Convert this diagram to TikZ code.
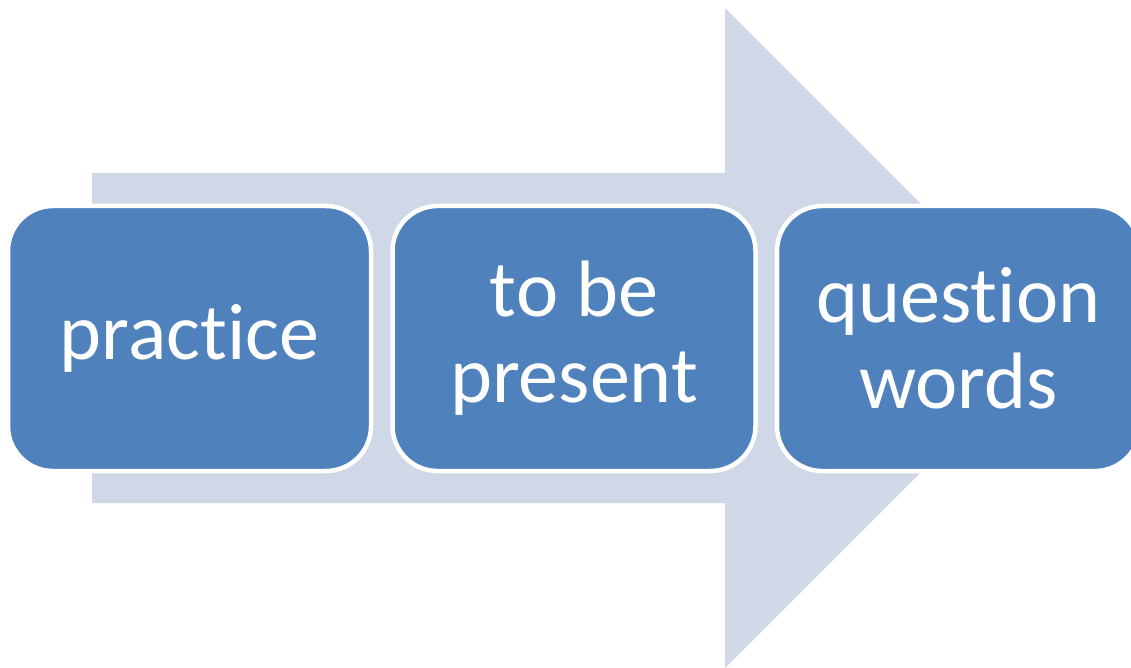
\documentclass[tikz,border=0pt]{standalone}
\usepackage{fontspec}
\setmainfont[Ligatures={NoCommon,NoRequired,NoContextual}]{Carlito}
\definecolor{arrowfill}{RGB}{208,216,232}
\definecolor{boxfill}{RGB}{79,129,189}
\begin{document}
\begin{tikzpicture}[x=1pt,y=-1pt,
  stepbox/.style={draw=white, line width=4.5pt, fill=boxfill, rounded corners=45pt,
    minimum width=363pt, minimum height=265pt, inner sep=0pt, text=white,
    align=center, font=\fontsize{80}{86}\selectfont}]
\useasboundingbox (0,0) rectangle (1131,668);
\clip (0,0) rectangle (1131,668);
\fill[arrowfill] (92,173) -- (725,173) -- (725,8) -- (1055,338) -- (725,668) -- (725,503) -- (92,503) -- cycle;
\node[stepbox] (b1) at (189.5,338.5) {practice};
\node[stepbox] (b2) at (574,338.5) {to be\\present};
\node[stepbox] (b3) at (958.5,338.5) {question\\words};
\end{tikzpicture}
\end{document}
